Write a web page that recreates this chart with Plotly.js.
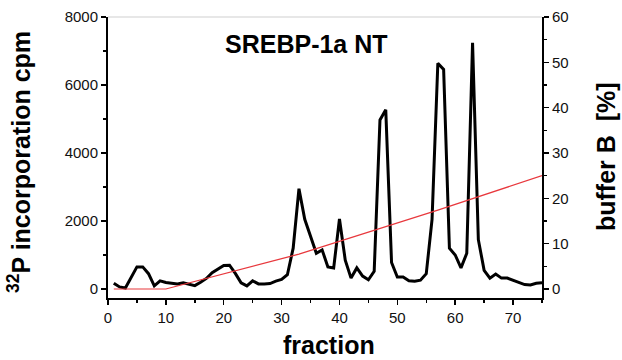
<!DOCTYPE html>
<html>
<head>
<meta charset="utf-8">
<script src="https://cdn.plot.ly/plotly-3.0.1.min.js"></script>
<style>
html,body{margin:0;padding:0;background:#fff;}
#chart{width:622px;height:360px;}
</style>
</head>
<body>
<div id="chart"></div>
<script>
// Fractions collected
const fractions = [1,2,3,4,5,6,7,8,9,10,11,12,13,14,15,16,17,18,19,20,21,22,23,24,25,26,27,28,29,30,31,32,33,34,35,36,37,38,39,40,41,42,43,44,45,46,47,48,49,50,51,52,53,54,55,56,57,58,59,60,61,62,63,64,65,66,67,68,69,70,71,72,73,74,75];
// 32P incorporation (cpm) per fraction
const cpm = [170,60,30,350,650,650,450,90,240,190,180,150,180,130,100,200,310,480,580,690,700,460,180,90,240,150,150,160,230,280,420,1200,2950,2050,1550,1050,1150,650,620,2060,850,320,620,380,270,520,4970,5270,780,350,350,240,230,260,450,2050,6640,6460,1200,1000,620,1050,7240,1450,550,320,440,320,320,250,180,130,120,170,180];
// Buffer B gradient (%) knots
const gradFraction = [1,10,33,57,75];
const bufferB = [0,0,7.7,17.4,25];

const titleText = 'SREBP-1a NT';
const xTitle = 'fraction';
const yTitle = '<sup>32</sup>P incorporation cpm';
const y2Title = 'buffer B&nbsp;&nbsp;[%]';

const FONT = 'Liberation Sans, Arial, Helvetica, sans-serif';

const traces = [
  {x: gradFraction, y: bufferB, yaxis: 'y2', type: 'scatter', mode: 'lines',
   line: {color: '#e8383d', width: 1.2}, hoverinfo: 'skip'},
  {x: fractions, y: cpm, type: 'scatter', mode: 'lines',
   line: {color: '#000000', width: 3}}
];

const layout = {
  width: 622, height: 360,
  margin: {l: 108, r: 80, t: 17, b: 62, pad: 0},
  paper_bgcolor: '#ffffff', plot_bgcolor: '#ffffff',
  showlegend: false,
  font: {family: FONT, size: 15, color: '#111'},
  xaxis: {
    range: [0, 75], tick0: 0, dtick: 10, ticks: 'outside', ticklen: 5, tickwidth: 1.5, tickcolor: '#000',
    showline: true, linewidth: 2, linecolor: '#000', showgrid: false, zeroline: false,
    minor: {dtick: 5, ticks: 'outside', ticklen: 3, tickwidth: 1.5, tickcolor: '#000', showgrid: false},
    tickfont: {family: FONT, size: 15, color: '#111'}
  },
  yaxis: {
    range: [-265, 8000], tick0: 0, dtick: 2000, ticks: 'outside', ticklen: 5, tickwidth: 1.5, tickcolor: '#000',
    showline: true, linewidth: 2, linecolor: '#000', showgrid: false, zeroline: false,
    minor: {dtick: 1000, ticks: 'outside', ticklen: 3, tickwidth: 1.5, tickcolor: '#000', showgrid: false},
    tickfont: {family: FONT, size: 15, color: '#111'}
  },
  yaxis2: {
    overlaying: 'y', side: 'right', anchor: 'x',
    range: [-1.9875, 60], tick0: 0, dtick: 10, ticks: 'outside', ticklen: 5, tickwidth: 1.5, tickcolor: '#000',
    showline: true, linewidth: 2, linecolor: '#000', showgrid: false, zeroline: false,
    minor: {dtick: 5, ticks: 'outside', ticklen: 3, tickwidth: 1.5, tickcolor: '#000', showgrid: false},
    tickfont: {family: FONT, size: 15, color: '#111'}
  },
  shapes: [
    {type: 'line', xref: 'paper', yref: 'paper', x0: 0, x1: 1, y0: 1, y1: 1,
     line: {color: '#cfcfcf', width: 1}, layer: 'below'}
  ],
  annotations: [
    {text: '<b>' + titleText + '</b>', xref: 'paper', yref: 'paper',
     x: (306 - 108) / 434, y: (298 - 44) / 281, xanchor: 'center', yanchor: 'middle',
     showarrow: false, font: {family: FONT, size: 25, color: '#000'}},
    {text: '<b>' + xTitle + '</b>', xref: 'paper', yref: 'paper',
     x: (329 - 108) / 434, y: (298 - 345) / 281, xanchor: 'center', yanchor: 'middle',
     showarrow: false, font: {family: FONT, size: 25, color: '#000'}},
    {text: '<b>' + yTitle + '</b>', xref: 'paper', yref: 'paper', textangle: -90,
     x: (19 - 108) / 434, y: (298 - 162) / 281, xanchor: 'center', yanchor: 'middle',
     showarrow: false, font: {family: FONT, size: 25, color: '#000'}},
    {text: '<b>' + y2Title + '</b>', xref: 'paper', yref: 'paper', textangle: -90,
     x: (606 - 108) / 434, y: (298 - 157) / 281, xanchor: 'center', yanchor: 'middle',
     showarrow: false, font: {family: FONT, size: 25, color: '#000'}}
  ]
};

Plotly.newPlot('chart', traces, layout, {displayModeBar: false, staticPlot: true});
</script>
</body>
</html>
